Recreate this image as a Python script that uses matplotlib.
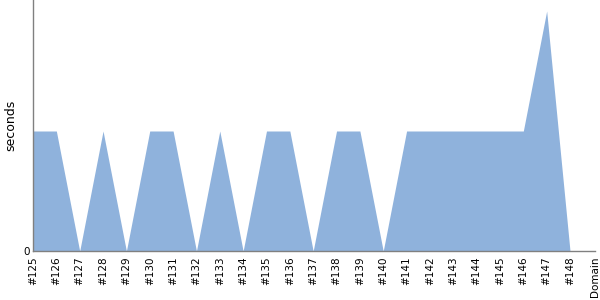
import matplotlib
matplotlib.use("Agg")
import matplotlib.pyplot as plt

builds = ["#125", "#126", "#127", "#128", "#129", "#130", "#131", "#132", "#133", "#134",
          "#135", "#136", "#137", "#138", "#139", "#140", "#141", "#142", "#143", "#144",
          "#145", "#146", "#147", "#148"]
seconds = [1, 1, 0, 1, 0, 1, 1, 0, 1, 0,
           1, 1, 0, 1, 1, 0, 1, 1, 1, 1,
           1, 1, 2, 0]

fig = plt.figure(figsize=(6, 3), dpi=100)
ax = fig.add_axes([33/600, 49/300, 562/600, 251/300])
x = list(range(len(builds)))
ax.fill_between(x, seconds, 0, color="#8fb2dc", linewidth=0)
ax.set_xlim(0, 24.07)
ax.set_ylim(0, 251/120)
ax.set_xticks(x)
ax.set_xticklabels(builds, rotation=90, fontsize=7.5)
ax.set_yticks([0])
ax.set_yticklabels(["0"], fontsize=7.5)
ax.tick_params(length=0, pad=4)
ax.tick_params(axis="y", pad=2)
for s in ["top", "right"]:
    ax.spines[s].set_visible(False)
for s in ["left", "bottom"]:
    ax.spines[s].set_color("#808080")
    ax.spines[s].set_linewidth(1)
fig.text(11/600, 1 - 125/300, "seconds", rotation=90, ha="center", va="center", fontsize=9)
ax.text(1.0, -0.02, "Domain", transform=ax.transAxes, rotation=90,
        ha="center", va="top", fontsize=7.5)
fig.savefig("out.png", dpi=100)
